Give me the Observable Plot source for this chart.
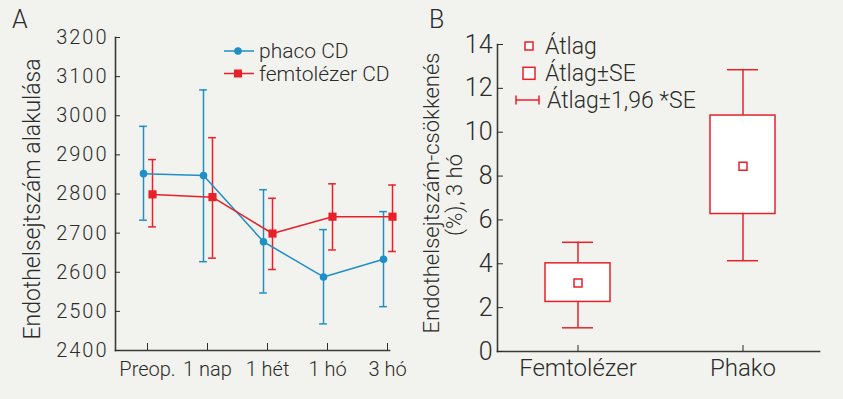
<!DOCTYPE html>
<html><head><meta charset="utf-8">
<script src="https://cdn.jsdelivr.net/npm/d3@7"></script>
<script src="https://cdn.jsdelivr.net/npm/@observablehq/plot@0.6"></script>
<style>
body{margin:0;background:#f2f3ee;}
#wrap{position:relative;width:843px;height:399px;background:#f2f3ee;font-family:Roboto,sans-serif;font-weight:300;color:#2b2b2b;overflow:hidden}
#wrap .pane{position:absolute;top:0;}
#wrap svg{display:block}
#wrap text{font-weight:300}
#paneA g[aria-label="y-axis tick label"] text{letter-spacing:2px}
#overlay{position:absolute;left:0;top:0;pointer-events:none}
</style></head><body><div id="wrap"><div class="pane" id="paneA" style="left:0"></div><div class="pane" id="paneB" style="left:420px"></div></div>
<script>
// Panel A data
const categories = ["Preop.", "1 nap", "1 hét", "1 hó", "3 hó"];
const phacoMean = [2852, 2847, 2678, 2588, 2633];
const phacoLow  = [2733, 2627, 2547, 2468, 2512];
const phacoHigh = [2973, 3066, 2811, 2709, 2755];
const femtoMean = [2799, 2792, 2699, 2742, 2742];
const femtoLow  = [2716, 2636, 2607, 2657, 2653];
const femtoHigh = [2888, 2944, 2789, 2826, 2823];
const yTicksA = [2400, 2500, 2600, 2700, 2800, 2900, 3000, 3100, 3200];
const seriesNames = ["phaco CD", "femtolézer CD"];

// Panel B data
const groups = ["Femtolézer", "Phako"];
const bMean   = [3.12, 8.45];
const bSeLow  = [2.26, 6.27];
const bSeHigh = [4.02, 10.76];
const bCiLow  = [1.08, 4.14];
const bCiHigh = [4.98, 12.85];
const yTicksB = [0, 2, 4, 6, 8, 10, 12, 14];
const legendB = ["Átlag", "Átlag±SE", "Átlag±1,96 *SE"];

const blue = "#1f8fc8", red = "#e8202a", ink = "#2b2b2b", axisC = "#3a3a3a";

const rowsP = categories.map((c, i) => ({cat: c, mean: phacoMean[i], lo: phacoLow[i], hi: phacoHigh[i]}));
const rowsF = categories.map((c, i) => ({cat: c, mean: femtoMean[i], lo: femtoLow[i], hi: femtoHigh[i]}));
const rowsB = groups.map((g, i) => ({g, mean: bMean[i], seLo: bSeLow[i], seHi: bSeHigh[i], ciLo: bCiLow[i], ciHi: bCiHigh[i]}));

const stepA = 60.25, capA = 8, insA = (stepA - capA) / 2;
const plotA = Plot.plot({
  width: 420, height: 399,
  marginLeft: 115, marginRight: 31, marginTop: 37, marginBottom: 49,
  style: {background: "transparent", fontFamily: "Roboto, sans-serif", fontSize: "20px", color: ink, overflow: "visible"},
  x: {type: "band", domain: categories, range: [146 - stepA / 2, 387 + stepA / 2], padding: 0},
  y: {domain: [2400, 3200]},
  marks: [
    Plot.frame({anchor: "left", stroke: axisC, strokeWidth: 1.6}),
    Plot.frame({anchor: "bottom", stroke: axisC, strokeWidth: 1.6}),
    Plot.axisY({ticks: yTicksA, tickSize: -5, tickPadding: 12, label: null, fontSize: 20, tickFormat: d => String(d)}),
    Plot.axisX({tickSize: -7, tickPadding: 18, label: null, fontSize: 20}),
    Plot.ruleX(rowsP, {x: "cat", y1: "lo", y2: "hi", dx: -4, stroke: blue, strokeWidth: 1.5}),
    Plot.tickY(rowsP, {x: "cat", y: "hi", dx: -4, insetLeft: insA, insetRight: insA, stroke: blue, strokeWidth: 1.5}),
    Plot.tickY(rowsP, {x: "cat", y: "lo", dx: -4, insetLeft: insA, insetRight: insA, stroke: blue, strokeWidth: 1.5}),
    Plot.ruleX(rowsF, {x: "cat", y1: "lo", y2: "hi", dx: 5, stroke: red, strokeWidth: 1.5}),
    Plot.tickY(rowsF, {x: "cat", y: "hi", dx: 5, insetLeft: insA, insetRight: insA, stroke: red, strokeWidth: 1.5}),
    Plot.tickY(rowsF, {x: "cat", y: "lo", dx: 5, insetLeft: insA, insetRight: insA, stroke: red, strokeWidth: 1.5}),
    Plot.line(rowsP, {x: "cat", y: "mean", dx: -4, stroke: blue, strokeWidth: 1.5}),
    Plot.line(rowsF, {x: "cat", y: "mean", dx: 5, stroke: red, strokeWidth: 1.5}),
    Plot.dot(rowsP, {x: "cat", y: "mean", dx: -4, r: 3.8, fill: blue, stroke: "none"}),
    Plot.dot(rowsF, {x: "cat", y: "mean", dx: 5, r: 4.6, symbol: "square", fill: red, stroke: "none"})
  ]
});
document.getElementById("paneA").appendChild(plotA);

const plotB = Plot.plot({
  width: 423, height: 399,
  marginLeft: 77, marginRight: 24, marginTop: 44, marginBottom: 48,
  style: {background: "transparent", fontFamily: "Roboto, sans-serif", fontSize: "24px", color: ink, overflow: "visible"},
  x: {type: "band", domain: groups, range: [75.2, 405.2], padding: 0},
  y: {domain: [0, 14]},
  marks: [
    Plot.frame({anchor: "left", stroke: axisC, strokeWidth: 1.6}),
    Plot.frame({anchor: "bottom", stroke: axisC, strokeWidth: 1.6}),
    Plot.axisY({ticks: yTicksB, tickSize: -6, tickPadding: 11, label: null, fontSize: 25}),
    Plot.axisX({tickSize: -6, tickPadding: 13, label: null, fontSize: 24}),
    Plot.ruleX(rowsB, {x: "g", y1: "ciLo", y2: "ciHi", stroke: red, strokeWidth: 1.5}),
    Plot.tickY(rowsB, {x: "g", y: "ciHi", insetLeft: 67, insetRight: 67, stroke: red, strokeWidth: 1.5}),
    Plot.tickY(rowsB, {x: "g", y: "ciLo", insetLeft: 67, insetRight: 67, stroke: red, strokeWidth: 1.5}),
    Plot.barY(rowsB, {x: "g", y1: "seLo", y2: "seHi", insetLeft: 50, insetRight: 50, fill: "white", stroke: red, strokeWidth: 1.5}),
    Plot.dot(rowsB, {x: "g", y: "mean", r: 4.5, symbol: "square", fill: "white", stroke: red, strokeWidth: 1.5})
  ]
});
document.getElementById("paneB").appendChild(plotB);

// Overlay: panel letters, axis titles, legends
const ov = d3.select("#wrap").append("svg").attr("id", "overlay").attr("width", 843).attr("height", 399)
  .attr("font-family", "Roboto, sans-serif").attr("fill", ink);
ov.append("text").attr("x", 12).attr("y", 28).attr("font-size", 25).text("A");
ov.append("text").attr("x", 429).attr("y", 28).attr("font-size", 25).text("B");
ov.append("text").attr("transform", "translate(32,199) rotate(-90)").attr("text-anchor", "middle")
  .attr("dominant-baseline", "central").attr("font-size", 23).text("Endothelsejtszám alakulása");
ov.append("text").attr("transform", "translate(431,193) rotate(-90)").attr("text-anchor", "middle")
  .attr("dominant-baseline", "central").attr("font-size", 22).text("Endothelsejtszám-csökkenés");
ov.append("text").attr("transform", "translate(454,195) rotate(-90)").attr("text-anchor", "middle")
  .attr("dominant-baseline", "central").attr("font-size", 22).text("(%), 3 hó");

// Legend A
const lgA = [{y: 51, c: blue, name: seriesNames[0], sym: "circle"}, {y: 73.5, c: red, name: seriesNames[1], sym: "square"}];
lgA.forEach(d => {
  ov.append("line").attr("x1", 224).attr("x2", 254).attr("y1", d.y).attr("y2", d.y).attr("stroke", d.c).attr("stroke-width", 1.5);
  if (d.sym === "circle") ov.append("circle").attr("cx", 238).attr("cy", d.y).attr("r", 3.8).attr("fill", d.c);
  else ov.append("rect").attr("x", 234).attr("y", d.y - 4).attr("width", 8).attr("height", 8).attr("fill", d.c);
  ov.append("text").attr("x", 259).attr("y", d.y).attr("dominant-baseline", "central").attr("font-size", 21).text(d.name);
});

// Legend B
ov.append("rect").attr("x", 525).attr("y", 42).attr("width", 8).attr("height", 8).attr("fill", "white").attr("stroke", red).attr("stroke-width", 1.5);
ov.append("rect").attr("x", 523).attr("y", 67.3).attr("width", 12).attr("height", 12).attr("fill", "white").attr("stroke", red).attr("stroke-width", 1.5);
ov.append("line").attr("x1", 516).attr("x2", 539).attr("y1", 100).attr("y2", 100).attr("stroke", red).attr("stroke-width", 1.5);
ov.append("line").attr("x1", 516).attr("x2", 516).attr("y1", 95.5).attr("y2", 104.5).attr("stroke", red).attr("stroke-width", 1.5);
ov.append("line").attr("x1", 539).attr("x2", 539).attr("y1", 95.5).attr("y2", 104.5).attr("stroke", red).attr("stroke-width", 1.5);
[[545, 46], [545, 73.3], [547, 100]].forEach(([x, y], i) => {
  ov.append("text").attr("x", x).attr("y", y).attr("dominant-baseline", "central").attr("font-size", 23).text(legendB[i]);
});
</script></body></html>
